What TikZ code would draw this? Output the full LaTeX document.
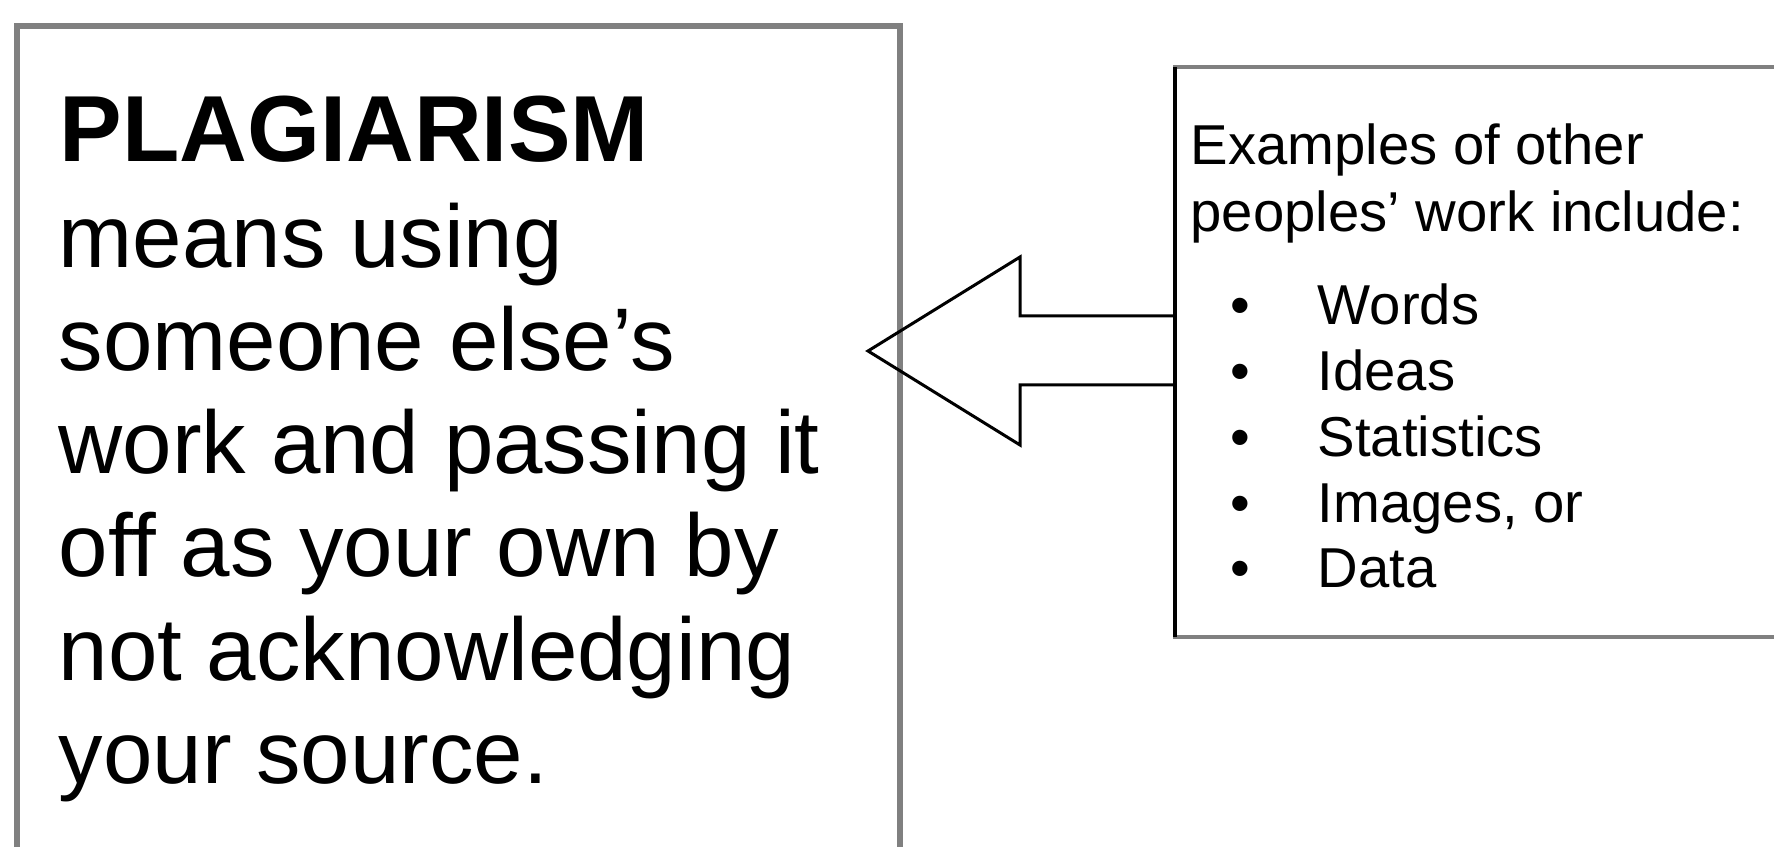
\documentclass[tikz,border=0pt]{standalone}
\usepackage{fontspec}
\setmainfont{Liberation Sans}

\begin{document}
\begin{tikzpicture}[x=1mm, y=1mm,
    deftext/.style={anchor=base west, inner sep=0pt,
      font=\fontsize{25.3}{29}\selectfont},
    extext/.style={anchor=base west, inner sep=0pt,
      font=\fontsize{16}{19}\selectfont}]
    \path [use as bounding box]
      (0, 0) rectangle (177.4, 84.6);
    \clip (0, 0) rectangle (177.4, 84.6);

    \newcommand{\defbox}{(1.7, -5) rectangle (90.0, 82.0)}
    \newcommand{\exbox}{(117.5, 20.9) rectangle (185, 77.9)}
    \newcommand{\exarrow}{
      (117.5, 53.0) -- (102.0, 53.0) -- (102.0, 58.9) --
      (86.8, 49.5) --
      (102.0, 40.1) -- (102.0, 46.1) -- (117.5, 46.1)
    }

    \path[draw=gray, line width=0.6mm] \defbox;
    \path[draw=gray, line width=0.35mm] \exbox;
    \coordinate (exnw) at (117.5, 77.9);
    \coordinate (exsw) at (117.5, 20.9);
    \path[draw=black, line width=0.35mm] (exnw) -- (exsw);
    \path[draw=black, line width=0.3mm, line join=miter] \exarrow;

    \node[anchor=base west, inner sep=0pt,
      font=\bfseries\fontsize{26.7}{30}\selectfont]
      (title) at (5.9, 68.4) {PLAGIARISM};
    \foreach \ln [count=\i] in { means using, someone else’s,
      work and passing it, off as your own by,
      not acknowledging, your source. } {
      \node[deftext] (def\i) at (5.8, 68.1 - 10.3 * \i) {\ln};
    }

    \node[extext] (exhead) at (119.0, 68.1) {Examples of other};
    \node[extext] (exhead2) at (119.0, 61.4) {peoples’ work include:};
    \foreach \item [count=\i] in { Words, Ideas, Statistics,
      {Images, or}, Data } {
      \node[extext, anchor=base] (dot\i)
        at (124.0, 58.7 - 6.575 * \i) {•};
      \node[extext] (item\i) at (131.7, 58.7 - 6.575 * \i) {\item};
    }
  \end{tikzpicture}
\end{document}
